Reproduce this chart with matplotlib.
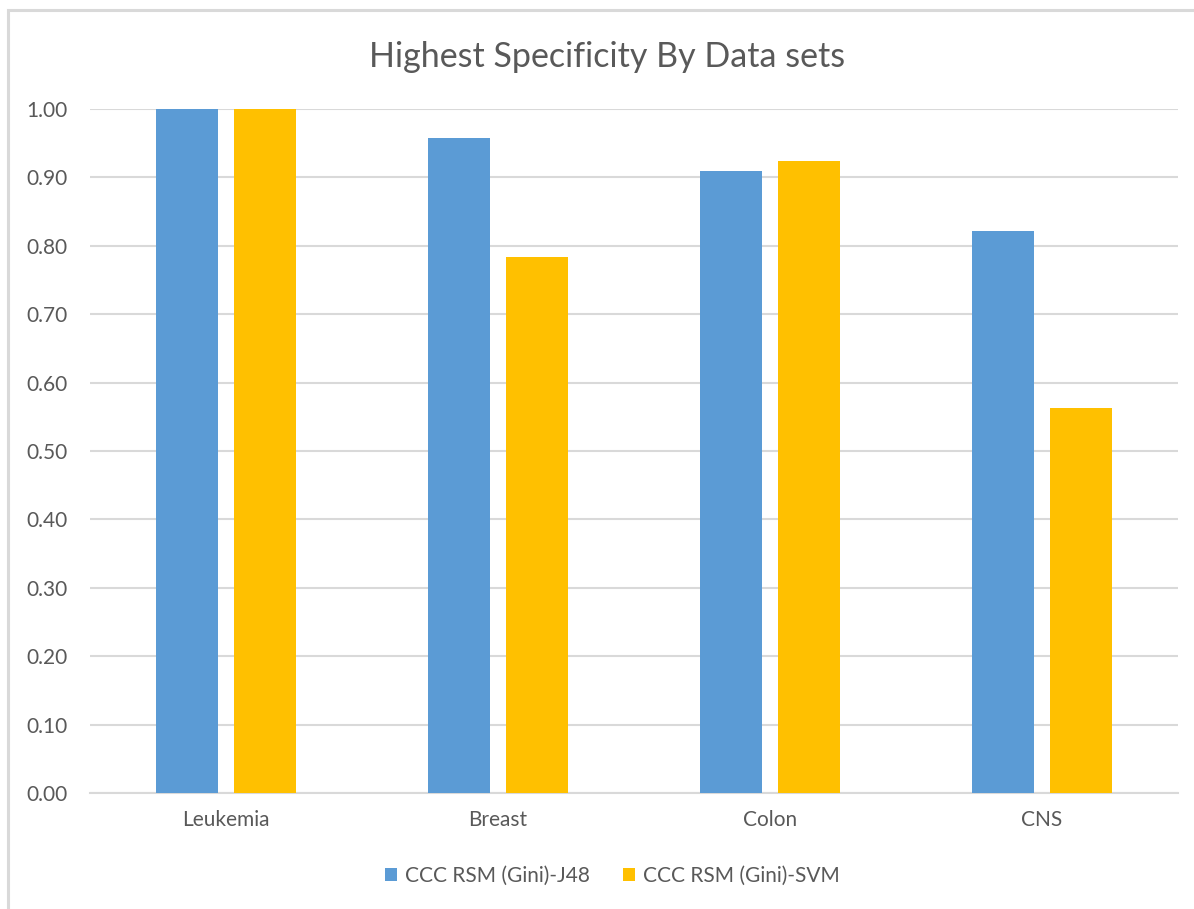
import numpy as np
import matplotlib
matplotlib.use("Agg")
import matplotlib.pyplot as plt
from matplotlib.patches import Rectangle

# Highest specificity per data set for the two CCC RSM (Gini) pipelines
datasets = ["Leukemia", "Breast", "Colon", "CNS"]
series_names = ["CCC RSM (Gini)-J48", "CCC RSM (Gini)-SVM"]
j48_values = [1.00, 0.957, 0.910, 0.821]
svm_values = [1.00, 0.784, 0.924, 0.563]
y_ticks = [0.0, 0.1, 0.2, 0.3, 0.4, 0.5, 0.6, 0.7, 0.8, 0.9, 1.0]

blue = "#5b9bd5"
gold = "#ffc000"
text_grey = "#595959"
grid_grey = "#d9d9d9"

plt.rcParams["font.family"] = ["Lato", "DejaVu Sans"]

W, H = 1194, 909
fig = plt.figure(figsize=(W / 100, H / 100), dpi=100)

# outer chart frame (only the left and top edges sit inside the canvas)
fig.patches.append(Rectangle((7.5 / W, -0.05), 1.2, 1 - 9.5 / H + 0.05,
                             transform=fig.transFigure, fill=False,
                             edgecolor="#d9d9d9", linewidth=2.2))

ax = fig.add_axes([90 / W, (H - 793) / H, (1178 - 90) / W, (793 - 109) / H])

x = np.arange(len(datasets))
bar_w = 0.228
offset = 0.143
ax.bar(x - offset, j48_values, bar_w, color=blue, label=series_names[0], zorder=3)
ax.bar(x + offset, svm_values, bar_w, color=gold, label=series_names[1], zorder=3)

ax.set_xlim(-0.5, len(datasets) - 0.5)
ax.set_ylim(0, 1.0)
ax.set_yticks(y_ticks)
ax.set_yticklabels([f"{v:.2f}" for v in y_ticks])
ax.set_xticks(x)
ax.set_xticklabels(datasets)
ax.tick_params(axis="both", length=0, labelsize=15, colors=text_grey)
ax.tick_params(axis="x", pad=12)
for lbl in ax.get_yticklabels():
    lbl.set_horizontalalignment("left")
    lbl.set_x(-64 / (1178 - 90))
    lbl.set_transform(ax.get_yaxis_transform())

ax.grid(axis="y", color=grid_grey, linewidth=1.5, zorder=0)
ax.set_axisbelow(True)
for side in ["top", "right", "left"]:
    ax.spines[side].set_visible(False)
ax.spines["bottom"].set_color(grid_grey)
ax.spines["bottom"].set_linewidth(1.5)

fig.text(607 / W, 1 - 57 / H, "Highest Specificity By Data sets",
         ha="center", va="center", fontsize=24.5, color=text_grey)

fig.legend(loc="center", bbox_to_anchor=(612 / W, 1 - 876 / H), ncol=2,
           frameon=False, fontsize=15, labelcolor=text_grey,
           handlelength=0.6, handleheight=0.6, handletextpad=0.35,
           columnspacing=1.6)

fig.savefig("out.png", dpi=100)
